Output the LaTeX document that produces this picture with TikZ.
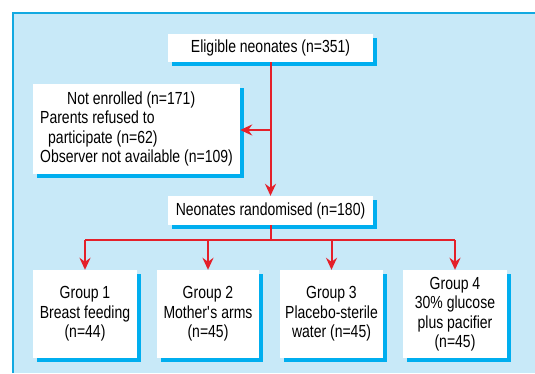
\documentclass[tikz,border=0pt]{standalone}
\usepackage{fontspec}
\setmainfont{Liberation Sans}[FakeStretch=0.8]
\usetikzlibrary{shadows,arrows.meta}
\definecolor{panel}{HTML}{C8E9F8}
\definecolor{edgeblue}{HTML}{12A9E1}
\definecolor{shade}{HTML}{00AEEF}
\definecolor{flow}{HTML}{E4202A}
\begin{document}
\begin{tikzpicture}[x=1pt,y=-1pt,
  box/.style={fill=white, inner sep=0pt, align=center,
    font=\fontsize{17.5}{19.5}\selectfont,
    drop shadow={shadow xshift=3.5pt, shadow yshift=-4pt, fill=shade, opacity=1}},
  plainline/.style={draw=flow, line width=2pt},
  link/.style={plainline, -{Stealth[length=12pt,width=11pt,inset=4pt]}}]
\useasboundingbox (0,0) rectangle (535,373);
\fill[panel] (13,13) rectangle (535,373);
\draw[edgeblue, line width=1.6pt] (13,373) -- (13,13) -- (535,13);

\node[box, minimum width=205pt, minimum height=28pt] (elig) at (270.5,48) {Eligible neonates (n=351)};
\node[box, minimum width=207pt, minimum height=90pt, align=left] (noten) at (136.5,129)
  {\hspace*{27pt}Not enrolled (n=171)\\Parents refused to\\\hspace*{8pt}participate (n=62)\\Observer not available (n=109)};
\node[box, minimum width=205pt, minimum height=29pt] (rand) at (270.5,210.5) {Neonates randomised (n=180)};

\node[box, minimum width=104pt, minimum height=88pt] (g1) at (85,314) {Group 1\\Breast feeding\\(n=44)};
\node[box, minimum width=102pt, minimum height=88pt] (g2) at (208,314) {Group 2\\Mother\textquotesingle s arms\\(n=45)};
\node[box, minimum width=103pt, minimum height=88pt] (g3) at (331.5,314) {Group 3\\Placebo-sterile\\water (n=45)};
\node[box, minimum width=104pt, minimum height=88pt] (g4) at (455,314) {Group 4\\30\% glucose\\plus pacifier\\(n=45)};

\coordinate (j1) at (270.5,130);
\coordinate (j2) at (270.5,240);
\draw[link] (elig.south) -- (rand.north);
\draw[link] (j1) -- (j1 -| noten.east);
\draw[plainline] (rand.south) -- (j2);
\draw[plainline] (g1.north |- j2) -- (g4.north |- j2);
\foreach \g in {g1,g2,g3,g4}{
  \draw[link] (\g.north |- j2) -- (\g.north);
}
\end{tikzpicture}
\end{document}
